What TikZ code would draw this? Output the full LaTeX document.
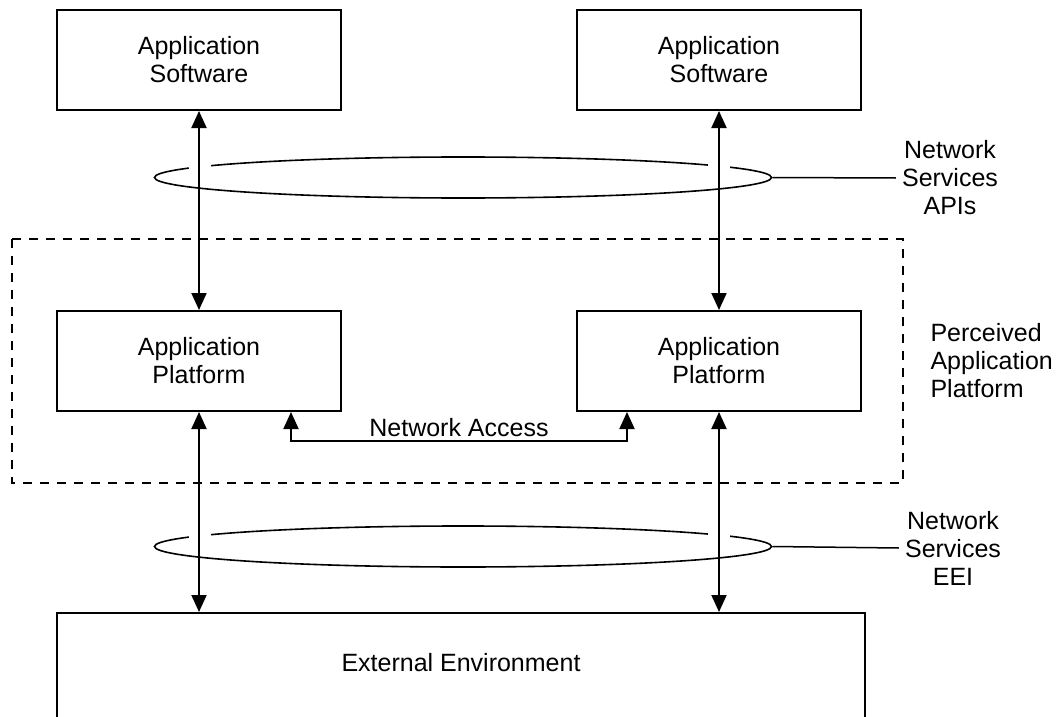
\documentclass[tikz,border=0pt]{standalone}
\usepackage{fontspec}
\setmainfont{Liberation Sans}
\usetikzlibrary{arrows.meta,shapes.geometric}

\tikzset{
    block/.style={draw, line width=2pt, minimum width=284pt, minimum height=100pt, align=center, inner sep=0pt},
    biarrow/.style={line width=2pt, {Triangle[length=17pt,width=15pt]}-{Triangle[length=17pt,width=15pt]}},
    ring/.style={draw, ellipse, line width=1.6pt, minimum width=617pt, minimum height=41pt, inner sep=0pt},
    gap/.style={fill=white},
    sidelabel/.style={align=center, inner sep=6pt},
}

\begin{document}
\begin{tikzpicture}[x=1pt, y=-1pt, font=\fontsize{25}{28}\selectfont]
    \useasboundingbox (0,0) rectangle (1061,717);

    % perceived platform
    \draw[line width=1.5pt, dash pattern=on 9pt off 8pt] (12,239) rectangle (903,483);

    \node[block] (swl) at (199,60) {Application\\Software};
    \node[block] (swr) at (719,60) {Application\\Software};
    \node[block] (pfl) at (199,361) {Application\\Platform};
    \node[block] (pfr) at (719,361) {Application\\Platform};
    \node[block, minimum width=808pt, anchor=north, text height=58pt, text depth=80pt] (ext) at (461,612) {External Environment};

    \node[ring] (apis) at (463,177.5) {};
    \node[ring] (eei) at (463,546.5) {};
    \fill[gap] (189,150) rectangle (211,176);
    \fill[gap] (708,150) rectangle (730,176);
    \fill[gap] (189,519) rectangle (211,545);
    \fill[gap] (708,519) rectangle (730,545);

    \draw[biarrow] (swl) -- (pfl);
    \draw[biarrow] (swr) -- (pfr);
    \draw[biarrow] (pfl.south) -- (pfl.south |- ext.north);
    \draw[biarrow] (pfr.south) -- (pfr.south |- ext.north);

    \coordinate (nal) at ([xshift=92pt]pfl.south);
    \coordinate (nar) at ([xshift=-92pt]pfr.south);
    \draw[biarrow] (nal) -- ++(0,29) -| node[pos=0.25, above] (netacc) {Network Access} (nar);

    % labels on the right
    \node[sidelabel] (apislbl) at (950,178) {Network\\Services\\APIs};
    \node[sidelabel] (eeilbl) at (953,548) {Network\\Services\\EEI};
    \node[anchor=west, align=left] (ppf) at (927,361) {Perceived\\Application\\Platform};
    \draw[line width=1.5pt] (apis.east) -- (apislbl.west);
    \draw[line width=1.5pt] (eei.east) -- (eeilbl.west);
\end{tikzpicture}
\end{document}
